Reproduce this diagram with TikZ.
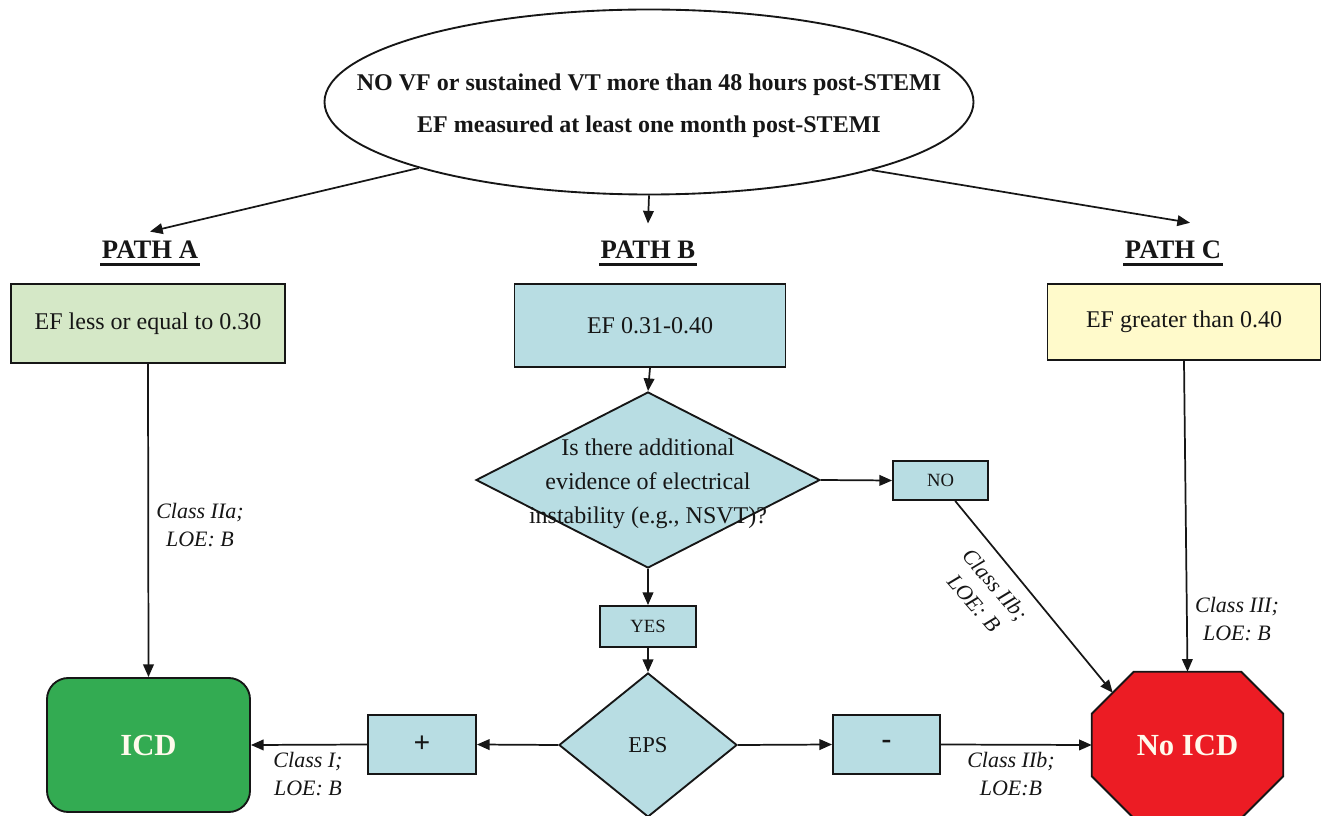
\documentclass[tikz,border=0pt]{standalone}
\usepackage{fontspec}
\setmainfont{Liberation Serif}
\usetikzlibrary{shapes.geometric,arrows.meta,backgrounds}

\definecolor{ink}{RGB}{22,22,22}
\definecolor{boxgreen}{RGB}{213,232,199}
\definecolor{boxblue}{RGB}{184,221,227}
\definecolor{boxyellow}{RGB}{255,250,203}
\definecolor{icdgreen}{RGB}{51,171,82}
\definecolor{stopred}{RGB}{236,28,36}
\definecolor{cream}{RGB}{255,250,236}

\begin{document}
\begin{tikzpicture}[x=0.75pt,y=-0.75pt,
  text=ink,
  outline/.style={draw=ink,line width=1.4pt},
  box/.style={outline,inner sep=0pt,align=center,font=\fontsize{18}{22}\selectfont},
  small/.style={box,font=\fontsize{14}{17}\selectfont},
  sign/.style={box,font=\bfseries\fontsize{22}{26}\selectfont},
  dia/.style={outline,diamond,fill=boxblue,inner sep=0pt},
  pathlab/.style={inner sep=0pt,font=\bfseries\fontsize{20}{24}\selectfont},
  lab/.style={inner sep=0pt,align=center,font=\itshape\fontsize{16.5}{21}\selectfont},
  final/.style={inner sep=0pt,text=cream,font=\bfseries\fontsize{23}{27}\selectfont},
  arr/.style={draw=ink,line width=1.3pt,-{Triangle[length=9.5pt,width=8pt]}},
  uline/.style={draw=ink,line width=2pt}
]
\useasboundingbox (0,0) rectangle (1322,816);

% entry criteria
\node[outline,ellipse,minimum width=486.75pt,minimum height=138.75pt,inner sep=0pt,
  label={[yshift=-3pt,align=center,font=\bfseries\fontsize{18}{31.5}\selectfont]center:{NO VF or sustained VT more than 48 hours post-STEMI\\EF measured at least one month post-STEMI}}]
  (top) at (649,102) {};

% path headings
\node[pathlab] (pA) at (150,250) {PATH A};
\node[pathlab] (pB) at (648,250) {PATH B};
\node[pathlab] (pC) at (1173,250) {PATH C};
\foreach \p in {pA,pB,pC}
  \draw[uline] ([yshift=-4.5pt,xshift=-1pt]\p.base west) -- ([yshift=-4.5pt,xshift=1pt]\p.base east);

% EF boxes
\node[box,fill=boxgreen,minimum width=205.5pt,minimum height=59.25pt] (bA) at (148,323.5) {EF less or equal to 0.30};
\node[box,fill=boxblue,minimum width=203.25pt,minimum height=62.25pt] (bB) at (650,325.5) {EF 0.31-0.40};
\node[box,fill=boxyellow,minimum width=204.75pt,minimum height=57pt] (bC) at (1184,322) {EF greater than 0.40};

% path B decisions
\node[dia,minimum width=258pt,minimum height=132pt,
  label={[yshift=-2.5pt,align=center,font=\fontsize{18}{25.5}\selectfont]center:{Is there additional\\evidence of electrical\\instability (e.g., NSVT)?}}]
  (q) at (648,480) {};
\node[small,fill=boxblue,minimum width=71.25pt,minimum height=29.25pt] (no) at (940.5,480.5) {NO};
\node[small,fill=boxblue,minimum width=72pt,minimum height=30.75pt] (yes) at (648,626.5) {YES};
\node[dia,minimum width=133.5pt,minimum height=108pt,font=\fontsize{17}{20}\selectfont] (eps) at (648,745) {EPS};
\node[sign,fill=boxblue,minimum width=81pt,minimum height=44.25pt] (plus) at (422,744.5) {+};
\node[sign,fill=boxblue,minimum width=80.25pt,minimum height=44.25pt] (minus) at (886.5,744.5) {-};

% outcomes
\node[outline,fill=icdgreen,rounded corners=16pt,minimum width=152.25pt,minimum height=100.5pt,
  inner sep=0pt,text=cream,font=\bfseries\fontsize{23}{27}\selectfont] (icd) at (148.5,745) {ICD};
\node[final,minimum width=143.25pt,minimum height=109.5pt] (noicd) at (1187.5,745) {No ICD};
\begin{scope}[on background layer]
  \draw[outline,fill=stopred]
    ([xshift=31.5pt]noicd.north west) -- ([xshift=-31.5pt]noicd.north east)
    -- ([yshift=-31.5pt]noicd.north east) -- ([yshift=31.5pt]noicd.south east)
    -- ([xshift=-31.5pt]noicd.south east) -- ([xshift=31.5pt]noicd.south west)
    -- ([yshift=31.5pt]noicd.south west) -- ([yshift=-31.5pt]noicd.north west) -- cycle;
\end{scope}
\coordinate (cut) at ([xshift=15.75pt,yshift=-15.75pt]noicd.north west);

% connectors
\draw[arr] (top.196) -- ([yshift=7pt]pA.north);
\draw[arr] (top.south) -- ([yshift=13pt]pB.north);
\draw[arr] (top.-17) -- ([xshift=12.75pt,yshift=13.5pt]pC.north);

\draw[arr] (bA.south) -- (icd.north);
\draw[arr] (bB.south) -- (q.north);
\draw[arr] (q.east) -- (no.west);
\draw[arr] (q.south) -- (yes.north);
\draw[arr] (yes.south) -- (eps.north);
\draw[arr] (eps.west) -- (plus.east);
\draw[arr] (plus.west) -- (icd.east);
\draw[arr] (eps.east) -- (minus.west);
\draw[arr] (minus.east) -- (noicd.west);
\draw[arr] ([xshift=11pt]no.south) -- (cut);
\draw[arr] (bC.south) -- (noicd.north);

% class / level-of-evidence labels
\node[lab] (lA) at (200,525) {Class IIa;\\LOE: B};
\node[lab] (lI) at (308,774) {Class I;\\LOE: B};
\node[lab] (lIIb) at (1011,774) {Class IIb;\\LOE:B};
\node[lab] (lIII) at (1237,619) {Class III;\\LOE: B};
\node[lab,rotate=-49] (lNo) at (985,594) {Class IIb;\\LOE: B};
\end{tikzpicture}
\end{document}
